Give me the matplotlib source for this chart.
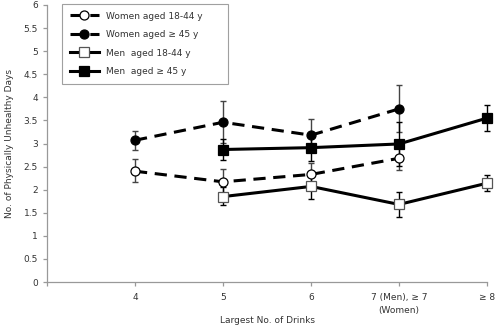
import matplotlib
matplotlib.use("Agg")
import matplotlib.pyplot as plt
import numpy as np

tick_pos = [3, 4, 5, 6, 7, 8]
tick_labels = ["", "4", "5", "6", "7 (Men), \u2265 7\n(Women)", "\u2265 8"]

w_young_x = [4, 5, 6, 7]
w_young_y = [2.40, 2.17, 2.33, 2.68]
w_young_lo = [2.17, 1.93, 2.10, 2.42]
w_young_hi = [2.67, 2.44, 2.58, 2.95]

w_old_x = [4, 5, 6, 7]
w_old_y = [3.07, 3.46, 3.18, 3.75]
w_old_lo = [2.87, 3.02, 2.82, 3.25]
w_old_hi = [3.27, 3.93, 3.54, 4.26]

m_young_x = [5, 6, 7, 8]
m_young_y = [1.85, 2.07, 1.68, 2.14]
m_young_lo = [1.66, 1.80, 1.40, 1.97]
m_young_hi = [2.05, 2.34, 1.95, 2.32]

m_old_x = [5, 6, 7, 8]
m_old_y = [2.87, 2.91, 2.99, 3.55]
m_old_lo = [2.64, 2.63, 2.51, 3.27]
m_old_hi = [3.09, 3.17, 3.46, 3.83]

fig = plt.figure(figsize=(4.96, 3.30), dpi=100)
ax = fig.add_axes([47/496, 48/330, 440/496, 277/330])

series = [
    ("Women aged 18-44 y", w_young_x, w_young_y, w_young_lo, w_young_hi, "o", "white", "black", (0, (4, 2.5)), "#444444"),
    ("Women aged \u2265 45 y", w_old_x, w_old_y, w_old_lo, w_old_hi, "o", "black", "black", (0, (4, 2.5)), "#444444"),
    ("Men  aged 18-44 y", m_young_x, m_young_y, m_young_lo, m_young_hi, "s", "white", "#555555", "-", "black"),
    ("Men  aged \u2265 45 y", m_old_x, m_old_y, m_old_lo, m_old_hi, "s", "black", "black", "-", "black"),
]

for label, x, y, lo, hi, mk, fc, ec, ls, ecol in series:
    y = np.array(y); lo = np.array(lo); hi = np.array(hi)
    ax.errorbar(x, y, yerr=[y - lo, hi - y], fmt="none", ecolor=ecol,
                elinewidth=1.0, capsize=2.5, capthick=1.0, zorder=2, clip_on=False)
    ax.plot(x, y, linestyle=ls, color="black", linewidth=2.2, marker=mk,
            markersize=7 if mk == "s" else 6.5, markerfacecolor=fc, markeredgecolor=ec,
            markeredgewidth=0.9, label=label, zorder=3, clip_on=False)

ax.set_xlim(3, 8)
ax.set_ylim(0, 6)
ax.set_yticks(np.arange(0, 6.01, 0.5))
ax.set_yticklabels(["0", "0.5", "1", "1.5", "2", "2.5", "3", "3.5", "4", "4.5", "5", "5.5", "6"])
ax.set_xticks(tick_pos)
ax.set_xticklabels(tick_labels, linespacing=1.5)

for s in ["top", "right"]:
    ax.spines[s].set_visible(False)
for s in ["left", "bottom"]:
    ax.spines[s].set_color("#999999")
    ax.spines[s].set_linewidth(0.9)
ax.tick_params(axis="both", colors="#999999", labelcolor="#333333", labelsize=6.5,
               length=3, width=0.9)
ax.tick_params(axis="x", pad=5)

ax.set_xlabel("Largest No. of Drinks", fontsize=6.5, color="#333333", labelpad=1)
ax.set_ylabel("No. of Physically Unhealthy Days", fontsize=6.5, color="#333333", labelpad=7)

leg = ax.legend(loc="upper left", bbox_to_anchor=(15/440, 0.718, 166/440, 0.286),
                mode="expand", fontsize=6.5,
                frameon=True, fancybox=False, edgecolor="#888888", handlelength=3.2,
                borderpad=0.85, labelspacing=1.05, handletextpad=0.8, borderaxespad=0)
leg.get_frame().set_linewidth(0.8)
for t in leg.get_texts():
    t.set_color("#333333")

fig.savefig("out.png", dpi=100)
